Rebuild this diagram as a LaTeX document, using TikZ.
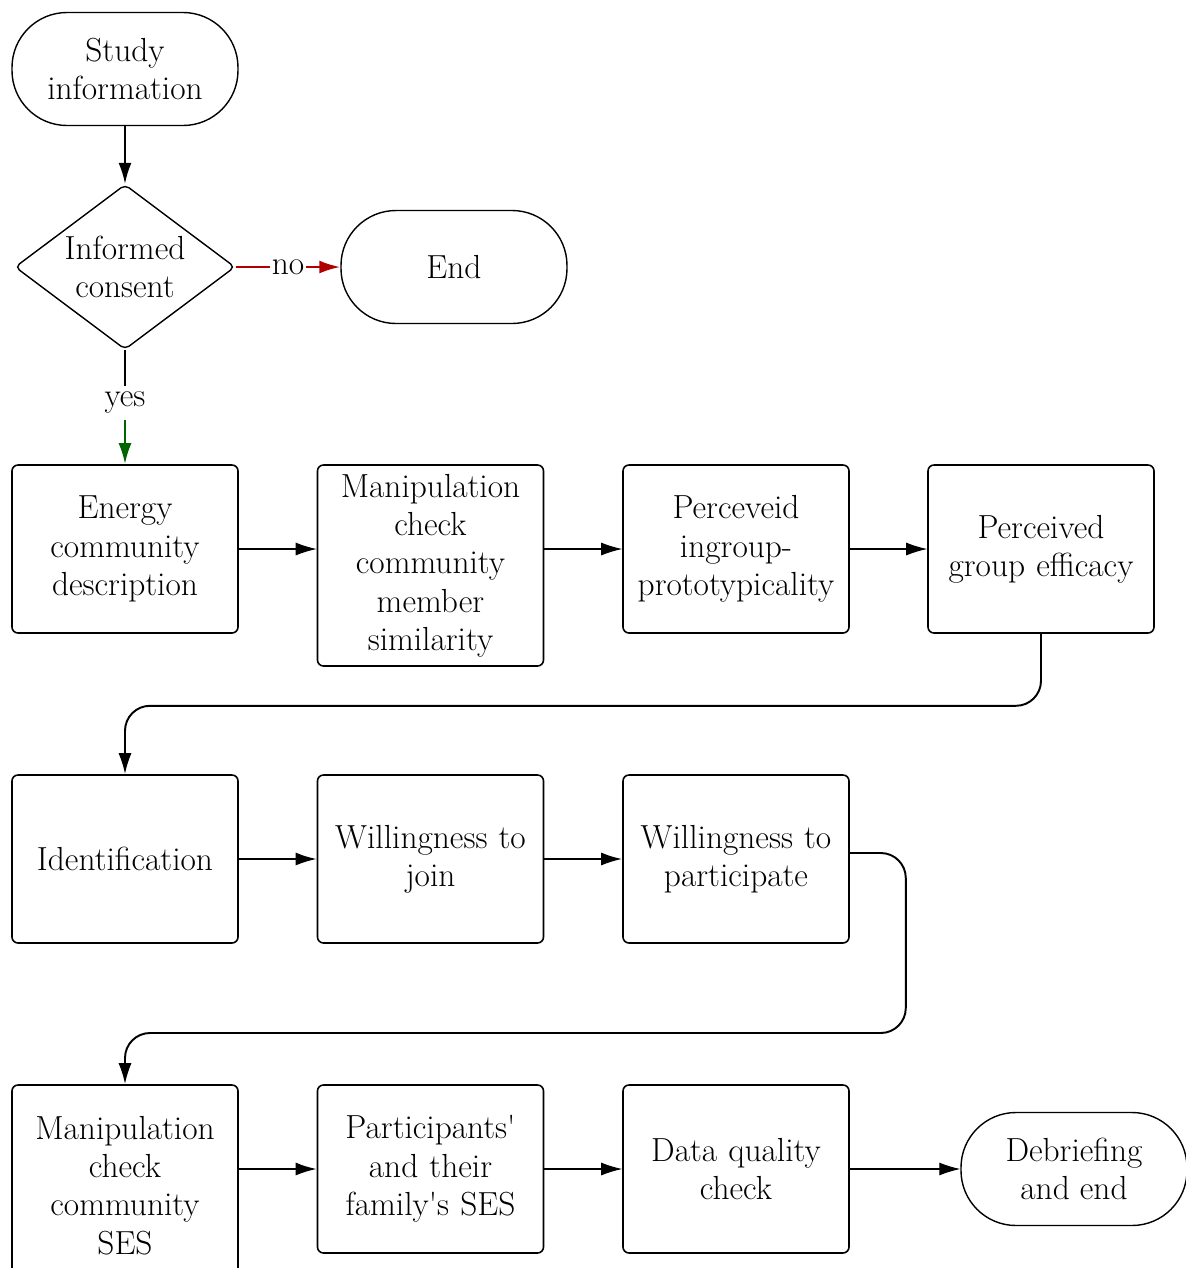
\documentclass[tikz,border=0pt]{standalone}
\usetikzlibrary{shapes.geometric,arrows.meta}

\definecolor{noRed}{RGB}{176,0,0}
\definecolor{yesGreen}{RGB}{0,100,0}

\tikzset{
  every node/.style={font=\fontsize{19}{21.8}\selectfont, align=center},
  stepbox/.style={draw, rounded corners=0.12cm, line width=0.9pt,
    minimum width=4.52cm, minimum height=3.36cm, text width=4.4cm, inner sep=0pt},
  tallbox/.style={stepbox, minimum height=4.02cm},
  termbox/.style={draw, rounded corners=1.1cm, line width=0.8pt,
    minimum width=4.52cm, minimum height=2.26cm, inner sep=0pt},
  decision/.style={draw, diamond, line width=0.8pt, rounded corners=0.1cm,
    minimum width=4.4cm, minimum height=3.3cm, inner sep=0pt, aspect=1.33},
  flowthin/.style={-{Latex[length=0.42cm,width=0.26cm]}, line width=0.6pt},
  flowthick/.style={-{Latex[length=0.42cm,width=0.26cm]}, line width=1.1pt},
}

\begin{document}
\begin{tikzpicture}
    \useasboundingbox (0,0) rectangle (23.72,-25.36);
    \clip (0,0) rectangle (23.72,-25.36);

    % === Start and consent ===
    \node[termbox] (study) at (2.5,-1.38) {Study\\information};
    \node[decision] (consent) at (2.5,-5.34) {Informed\\consent};
    \node[termbox] (endnode) at (9.08,-5.34) {End};
    \node (yes) at (2.5,-8.06) {yes};

    % === Row 1 ===
    \node[stepbox] (energy) at (2.5,-10.98) {Energy\\community\\description};
    \node[tallbox] (manipsim) at (8.61,-11.31) {Manipulation\\check\\community\\member\\similarity};
    \node[stepbox] (proto) at (14.72,-10.98) {Perceveid\\ingroup-\\prototypicality};
    \node[stepbox] (efficacy) at (20.82,-10.98) {Perceived\\group efficacy};

    % === Row 2 ===
    \node[stepbox] (ident) at (2.5,-17.18) {Identification};
    \node[stepbox] (join) at (8.61,-17.18) {Willingness to\\join};
    \node[stepbox] (particip) at (14.72,-17.18) {Willingness to\\participate};

    % === Row 3 ===
    \node[tallbox] (manipses) at (2.5,-23.71) {Manipulation\\check\\community\\SES};
    \node[stepbox] (famses) at (8.61,-23.38) {Participants\textquotesingle\\and their\\family\textquotesingle s SES};
    \node[stepbox] (quality) at (14.72,-23.38) {Data quality\\check};
    \node[termbox] (debrief) at (21.48,-23.38) {Debriefing\\and end};

    % Frecce
    \draw[flowthick] (study) -- (consent);
    \draw[flowthick, noRed, line width=1.4pt] (consent.east) -- node[fill=white, inner sep=1pt, text=black] {no} (endnode.west);
    \draw[line width=1.4pt] (consent.south) -- (yes.north);
    \draw[flowthick, yesGreen, line width=1.4pt] (yes.south) -- (energy.north);

    \draw[flowthin] (energy.east) -- (energy.east -| manipsim.west);
    \draw[flowthin] (energy.east -| manipsim.east) -- (proto.west);
    \draw[flowthin] (proto.east) -- (efficacy.west);
    \draw[flowthick, rounded corners=0.5cm] (efficacy.south) -- ++(0,-1.44) -| (ident.north);

    \draw[flowthick] (ident.east) -- (join.west);
    \draw[flowthick] (join.east) -- (particip.west);
    \draw[flowthick, rounded corners=0.5cm] ([yshift=0.12cm]particip.east) -| ++(1.12,-3.6) -| (manipses.north);

    \draw[flowthick] (famses.west -| manipses.east) -- (famses.west);
    \draw[flowthin] (famses.east) -- (quality.west);
    \draw[flowthin] (quality.east) -- (debrief.west);
\end{tikzpicture}
\end{document}
